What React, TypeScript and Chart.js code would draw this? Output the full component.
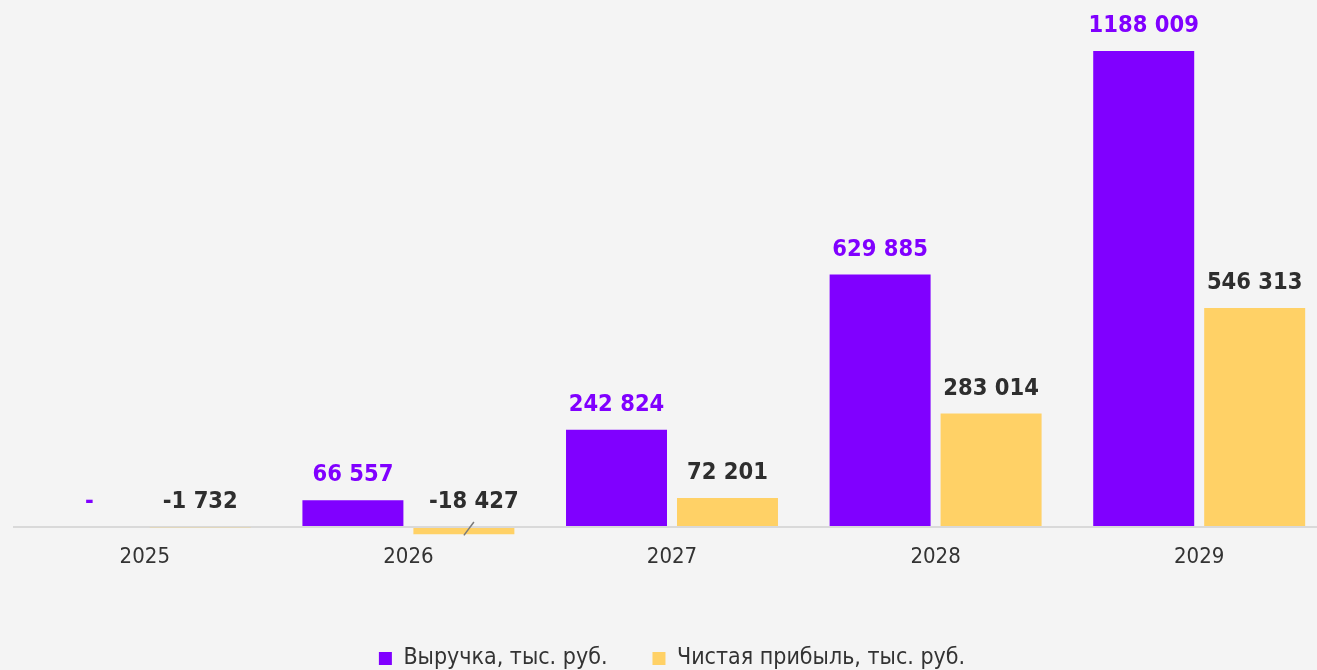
import React, { useEffect, useRef } from 'react';
import { Chart, registerables } from 'chart.js';

Chart.register(...registerables);

const years = ['2025', '2026', '2027', '2028', '2029'];
const revenue = [0, 66557, 242824, 629885, 1188009];
const profit = [-1732, -18427, 72201, 283014, 546313];
const seriesNames = ['Выручка, тыс. руб.', 'Чистая прибыль, тыс. руб.'];
const seriesColors = ['#8000ff', '#ffd166'];
const labelColors = ['#8000ff', '#2e2e2e'];

const FONT = '"DejaVu Sans Condensed", "DejaVu Sans", sans-serif';

function fmt(v: number): string {
  if (v === 0) return '-';
  const s = String(Math.abs(v));
  const t = s.length > 3 ? s.slice(0, -3) + ' ' + s.slice(-3) : s;
  return (v < 0 ? '-' : '') + t;
}

const bgPlugin = {
  id: 'bgFill',
  beforeDraw(chart: any) {
    const ctx = chart.ctx;
    ctx.save();
    ctx.fillStyle = '#f4f4f4';
    ctx.fillRect(0, 0, chart.width, chart.height);
    ctx.restore();
  },
};

const valueLabels = {
  id: 'valueLabels',
  afterDatasetsDraw(chart: any) {
    const ctx = chart.ctx;
    const yScale = chart.scales.y;
    const zero = yScale.getPixelForValue(0);
    ctx.save();
    ctx.font = `bold 23.5px ${FONT}`;
    ctx.textAlign = 'center';
    ctx.textBaseline = 'middle';
    chart.data.datasets.forEach((ds: any, di: number) => {
      const meta = chart.getDatasetMeta(di);
      meta.data.forEach((bar: any, i: number) => {
        const v = ds.data[i] as number;
        const top = yScale.getPixelForValue(Math.max(v, 0));
        let x = bar.x;
        const h = Math.abs(bar.y - bar.base);
        if (v < 0 && h > 3) {
          x += 10;
          ctx.strokeStyle = '#7a7a7a';
          ctx.lineWidth = 1.5;
          ctx.beginPath();
          ctx.moveTo(bar.x, bar.y + 1);
          ctx.lineTo(bar.x + 10, zero - 5);
          ctx.stroke();
        }
        ctx.fillStyle = labelColors[di];
        ctx.fillText(fmt(v), x, top - 25);
      });
    });
    ctx.restore();
  },
};

export default function App() {
  const ref = useRef<HTMLCanvasElement>(null);

  useEffect(() => {
    document.documentElement.style.background = '#f4f4f4';
    document.body.style.margin = '0';
    document.body.style.overflow = 'hidden';
    const chart = new Chart(ref.current as HTMLCanvasElement, {
      type: 'bar',
      data: {
        labels: years,
        datasets: [
          {
            label: seriesNames[0],
            data: revenue,
            backgroundColor: seriesColors[0],
            barPercentage: 0.91,
            categoryPercentage: 0.842,
          },
          {
            label: seriesNames[1],
            data: profit,
            backgroundColor: seriesColors[1],
            barPercentage: 0.91,
            categoryPercentage: 0.842,
          },
        ],
      },
      options: {
        responsive: false,
        animation: false,
        devicePixelRatio: 1,
        layout: { padding: { left: 13, right: 14, top: 6, bottom: 10 } },
        plugins: {
          tooltip: { enabled: false },
          legend: {
            position: 'bottom',
            labels: {
              boxWidth: 13,
              boxHeight: 13,
              padding: 45,
              color: '#333333',
              font: { family: FONT, size: 23 },
            },
          },
        },
        scales: {
          x: {
            grid: { display: false, drawTicks: false },
            border: { display: false },
            ticks: {
              padding: 5,
              color: '#333333',
              font: { family: FONT, size: 22 },
            },
            afterFit: (scale: any) => {
              scale.height = 63;
            },
          },
          y: {
            min: -30000,
            max: 1300000,
            border: { display: false },
            grid: { color: '#d9d9d9', lineWidth: 2, drawTicks: false },
            ticks: { display: false },
            afterBuildTicks: (axis: any) => {
              axis.ticks = [{ value: 0 }];
            },
          },
        },
      },
      plugins: [bgPlugin, valueLabels],
    } as any);
    return () => chart.destroy();
  }, []);

  return (
    <div style={{ position: 'fixed', left: 0, top: 0, width: 1345, height: 690, background: '#f4f4f4' }}>
      <canvas ref={ref} width={1345} height={690} />
    </div>
  );
}
